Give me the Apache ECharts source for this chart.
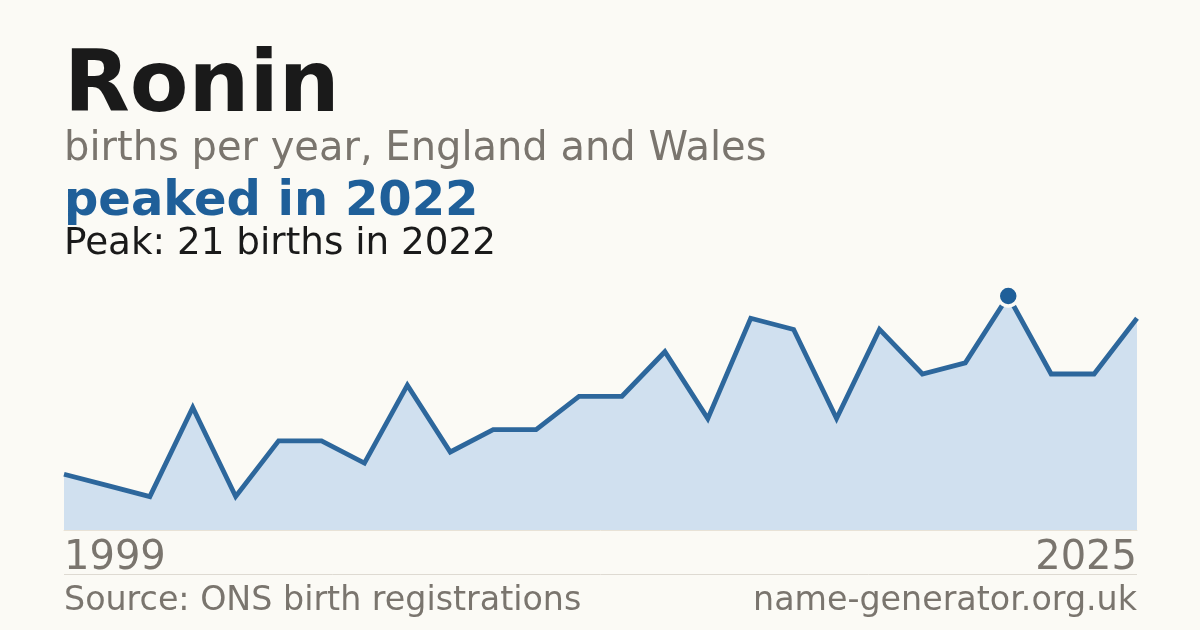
<!DOCTYPE html>
<html>
<head>
<meta charset="utf-8">
<script src="https://cdn.jsdelivr.net/npm/echarts@6/dist/echarts.min.js"></script>
<style>
  html, body { margin: 0; padding: 0; background: #fbfaf5; }
  #chart { width: 1200px; height: 630px; }
</style>
</head>
<body>
<div id="chart"></div>
<script>
// births per year for Ronin (2000 not in the series)
const years = ['1999', '2001', '2002', '2003', '2004', '2005', '2006', '2007', '2008',
    '2009', '2010', '2011', '2012', '2013', '2014', '2015', '2016', '2017', '2018',
    '2019', '2020', '2021', '2022', '2023', '2024', '2025']
const births = [5, 4, 3, 11, 3, 8, 8, 6, 13, 7, 9, 9, 12, 12, 16, 10, 19, 18, 10, 18,
    14, 15, 21, 14, 14, 19]

const nameText = 'Ronin'
const subText = 'births per year, England and Wales'
const trendText = 'peaked in 2022'
const peakText = 'Peak: 21 births in 2022'
const sourceText = 'Source: ONS birth registrations'
const siteText = 'name-generator.org.uk'

const font = 'DejaVu Sans'
const blue = '#1f5f99'
const grey = '#7a756e'

const textTitle = (text, top, size, color, weight, extra) => Object.assign({
    text: text,
    left: 64,
    top: top,
    padding: 0,
    textStyle: { fontFamily: font, fontSize: size, color: color, fontWeight: weight }
}, extra || {})

const option = {
    backgroundColor: '#fbfaf5',
    animation: false,
    title: [
        textTitle(nameText, 46, 85.5, '#1a1a1a', 'bold'),
        textTitle(subText, 130, 40, grey, 'normal'),
        textTitle(trendText, 179, 48, blue, 'bold'),
        textTitle(peakText, 226, 37.3, '#1a1a1a', 'normal'),
        textTitle(sourceText, 585, 33.3, grey, 'normal'),
        textTitle(siteText, 585, 33.3, grey, 'normal', { left: null, right: 63 })
    ],
    grid: { left: 64, right: 63, top: 296, bottom: 100 },
    xAxis: {
        type: 'category',
        data: years,
        boundaryGap: false,
        axisLine: { show: true, lineStyle: { color: '#e8e2d6', width: 1 } },
        axisTick: { show: false },
        axisLabel: {
            interval: (i) => i === 0 || i === years.length - 1,
            margin: 9,
            fontFamily: font,
            fontSize: 40,
            color: grey,
            alignMinLabel: 'left',
            alignMaxLabel: 'right'
        },
        splitLine: { show: false }
    },
    yAxis: {
        type: 'value',
        min: 0,
        max: 21,
        show: false,
        splitLine: { show: false }
    },
    series: [{
        type: 'line',
        data: births,
        symbol: 'none',
        clip: false,
        lineStyle: { color: '#2d679c', width: 4.8, join: 'miter' },
        areaStyle: { color: '#d0e0ef', opacity: 1 },
        markPoint: {
            data: [{ type: 'max' }],
            symbol: 'circle',
            symbolSize: 20,
            label: { show: false },
            itemStyle: { color: blue, borderColor: '#fbfaf5', borderWidth: 3.5 }
        }
    }],
    graphic: [{
        type: 'line',
        shape: { x1: 64, y1: 574.5, x2: 1137, y2: 574.5 },
        style: { stroke: '#dedad2', lineWidth: 1 }
    }]
}

const myChart = echarts.init(document.getElementById('chart'))
myChart.setOption(option)
</script>
</body>
</html>
